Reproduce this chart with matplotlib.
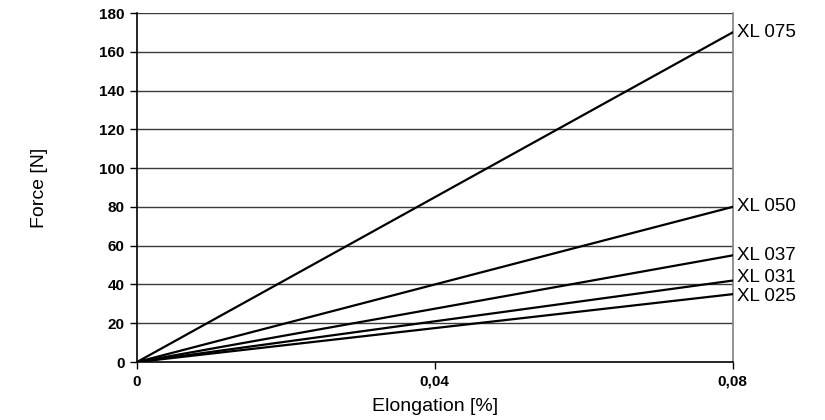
import numpy as np
import matplotlib.pyplot as plt

# ====================
# DATOS
# ====================
tipos = ['XL 075', 'XL 050', 'XL 037', 'XL 031', 'XL 025']
fuerza_max = [170, 80, 55, 42, 35]   # N a 0,08 %
elong = [0, 0.08]
y_ticks = [0, 20, 40, 60, 80, 100, 120, 140, 160, 180]
x_ticks = [0, 0.04, 0.08]
x_tick_labels = ['0', '0,04', '0,08']

plt.rcParams['font.family'] = ['Liberation Sans', 'DejaVu Sans']

fig = plt.figure(figsize=(8.25, 4.2), dpi=100)
ax = fig.add_axes([0.166, 0.138, 0.722, 0.831])

# líneas de rejilla
for v in y_ticks[1:]:
    ax.axhline(v, color='#3a3a3a', lw=1.0, zorder=1)

# rectas fuerza-elongación (pequeño desplazamiento vertical de etiquetas juntas)
desp = [0, 0, 0, 2.5, -1.5]
for nombre, f, d in zip(tipos, fuerza_max, desp):
    ax.plot(elong, [0, f], color='black', lw=1.6, zorder=3)
    ax.annotate(nombre, xy=(0.08, f), xytext=(3, d), textcoords='offset points',
                fontsize=13.5, va='center', ha='left', zorder=4)

ax.set_xlim(0, 0.08)
ax.set_ylim(0, 180)
ax.set_xticks(x_ticks)
ax.set_xticklabels(x_tick_labels)
ax.set_yticks(y_ticks)
for lab in ax.get_xticklabels() + ax.get_yticklabels():
    lab.set_fontweight('bold')
    lab.set_fontsize(11)
ax.tick_params(direction='out', length=5, width=1, color='black', pad=4)

ax.spines['left'].set_color('black')
ax.spines['bottom'].set_color('black')
ax.spines['top'].set_visible(False)
ax.spines['right'].set_color('#808080')
for s in ax.spines.values():
    s.set_linewidth(1.2)

ax.set_xlabel('Elongation [%]', fontsize=14, labelpad=7)
ax.set_ylabel('Force [N]', fontsize=14, labelpad=37)

plt.savefig('out.png', dpi=100)
